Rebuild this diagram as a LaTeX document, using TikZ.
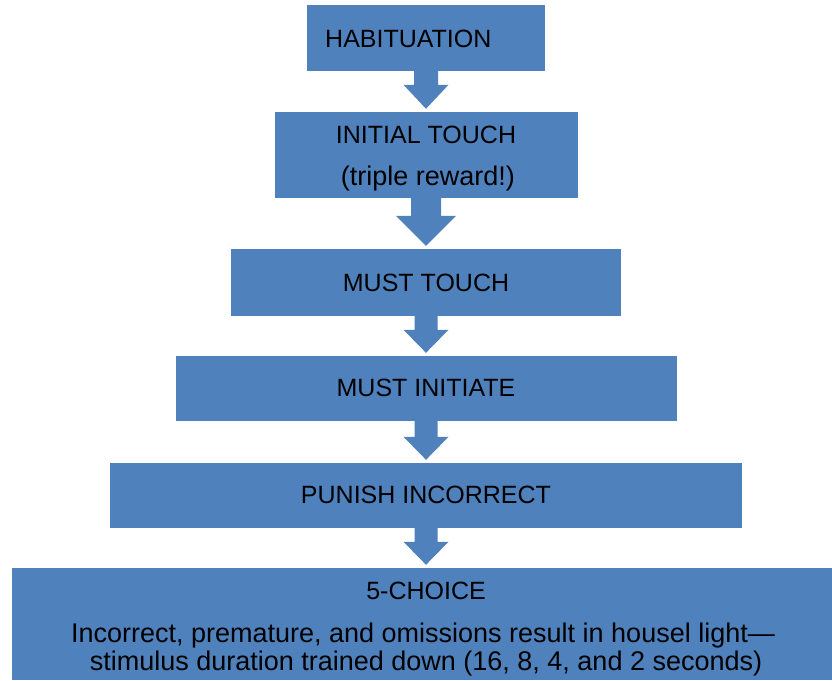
\documentclass[tikz,border=0pt]{standalone}
\usepackage{fontspec}
\setmainfont{Liberation Sans}
\usetikzlibrary{calc}
\definecolor{boxblue}{HTML}{4F81BD}
\newcommand\fatarrow[5]{% from, to, shaft half, head half, head length
  \fill[boxblue] let \p1=(#1.south), \p2=(#2.north) in
    (\x1-#3pt,\y1) -- (\x1+#3pt,\y1) -- (\x1+#3pt,\y2+3pt+#5pt) -- (\x1+#4pt,\y2+3pt+#5pt)
    -- (\x1,\y2+3pt) -- (\x1-#4pt,\y2+3pt+#5pt) -- (\x1-#3pt,\y2+3pt+#5pt) -- cycle;}
\begin{document}
\begin{tikzpicture}[x=1pt,y=-1pt,
  stagebox/.style={fill=boxblue, draw=none, inner sep=0pt},
  lbl/.style={anchor=base, inner sep=0pt, font=\fontsize{25}{30}\selectfont, text=black},
  sublbl/.style={lbl, font=\fontsize{27}{32}\selectfont}]
\useasboundingbox (0,0) rectangle (832,680);
% boxes
\node[stagebox, minimum width=238pt, minimum height=66pt] (hab) at (426,38) {};
\node[stagebox, minimum width=303pt, minimum height=86pt] (init) at (426,155) {};
\node[stagebox, minimum width=390pt, minimum height=67pt] (must) at (426,282.5) {};
\node[stagebox, minimum width=501pt, minimum height=65pt] (initiate) at (426,388.5) {};
\node[stagebox, minimum width=632pt, minimum height=65pt] (punish) at (426,495.5) {};
\node[stagebox, minimum width=820pt, minimum height=112pt] (five) at (422,624) {};
% arrows
\fatarrow{hab}{init}{12}{22.5}{24}
\fatarrow{init}{must}{15}{30}{30}
\fatarrow{must}{initiate}{11.5}{22.5}{23}
\fatarrow{initiate}{punish}{11.5}{22.5}{23}
\fatarrow{punish}{five}{11.5}{22.5}{23}
% labels
\node[lbl, anchor=base west] (habt) at (325,47) {HABITUATION};
\node[lbl] (it1) at (426,143) {INITIAL TOUCH};
\node[sublbl] (it2) at (428,185) {(triple reward!)};
\node[lbl] (mt) at (426,291) {MUST TOUCH};
\node[lbl] (mi) at (426,396) {MUST INITIATE};
\node[lbl] (pi) at (426,503) {PUNISH INCORRECT};
\node[lbl] (fc) at (426,599) {5-CHOICE};
\node[sublbl] (fl1) at (423,642) {Incorrect, premature, and omissions result in housel light—};
\node[sublbl] (fl2) at (426,670) {stimulus duration trained down (16, 8, 4, and 2 seconds)};
\end{tikzpicture}
\end{document}
